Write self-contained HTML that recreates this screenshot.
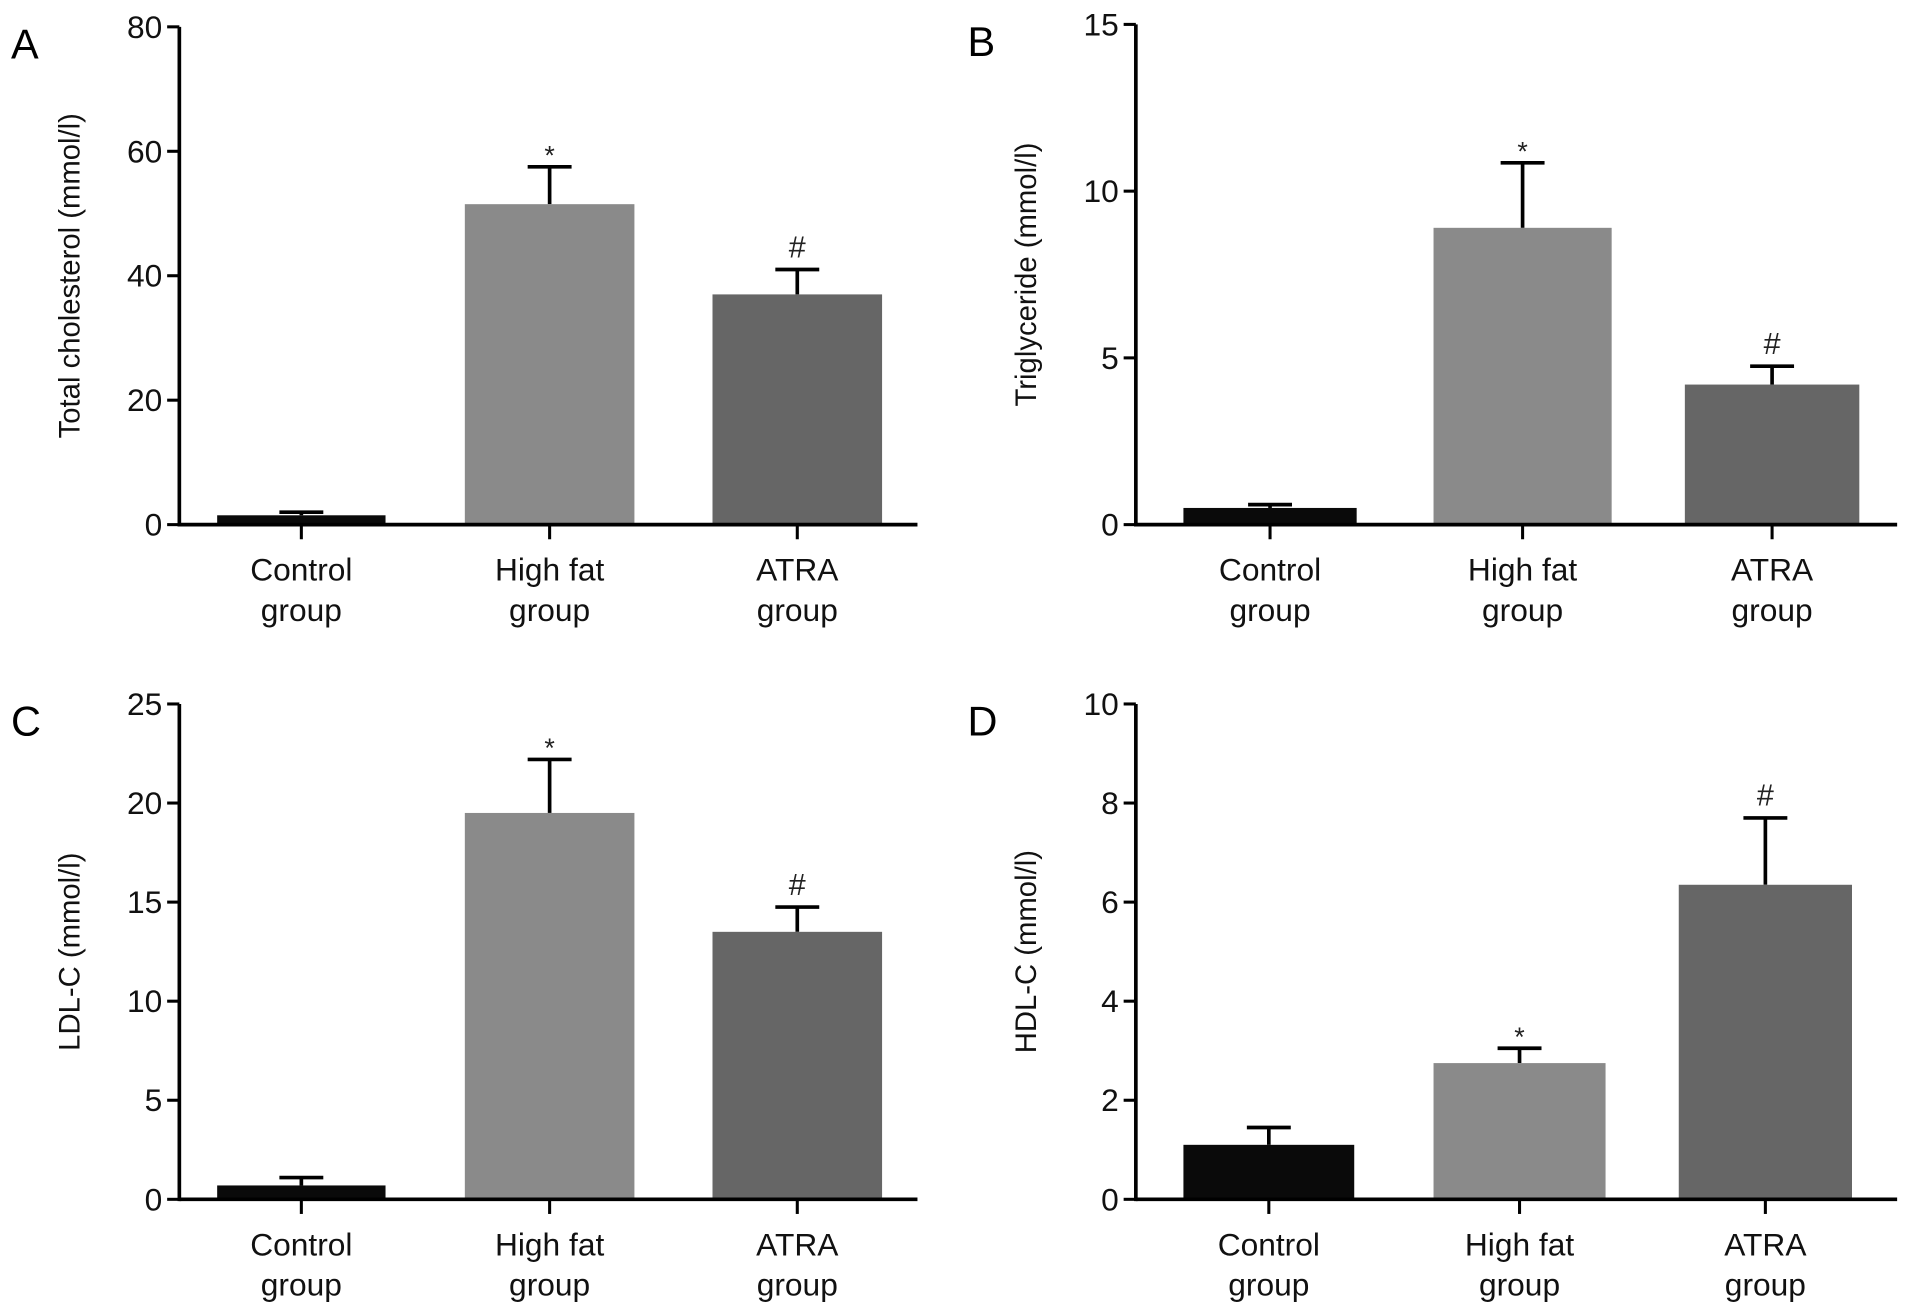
<!DOCTYPE html>
<html><head><meta charset="utf-8"><style>
html,body{margin:0;padding:0;background:#fff;}
svg{display:block;font-family:"Liberation Sans",Arial,sans-serif;}
</style></head><body>
<svg id="fig" width="1913" height="1314" viewBox="0 0 1568 1077" preserveAspectRatio="none" xmlns="http://www.w3.org/2000/svg"></svg>
<script>
const categories = ["Control|group","High fat|group","ATRA|group"];
const colors = ["#0a0a0a","#8a8a8a","#666666"];
const valuesA = [1.5, 51.5, 37];
const errorsA = [2.0, 57.5, 41];
const valuesB = [0.5, 8.9, 4.2];
const errorsB = [0.6, 10.85, 4.75];
const valuesC = [0.7, 19.5, 13.5];
const errorsC = [1.1, 22.2, 14.75];
const valuesD = [1.1, 2.75, 6.35];
const errorsD = [1.45, 3.05, 7.7];
const ticksA = [0,20,40,60,80];
const ticksB = [0,5,10,15];
const ticksC = [0,5,10,15,20,25];
const ticksD = [0,2,4,6,8,10];
const marksA = ["","*","#"];
const marksB = ["","*","#"];
const marksC = ["","*","#"];
const marksD = ["","*","#"];

const svg = document.getElementById('fig');
const NS = "http://www.w3.org/2000/svg";
function el(tag, attrs, parent){
  const e = document.createElementNS(NS, tag);
  for (const k in attrs) e.setAttribute(k, attrs[k]);
  (parent||svg).appendChild(e);
  return e;
}
function panel(cfg){
  const g = el('g', {});
  
  
  const ymax = cfg.ticks[cfg.ticks.length-1];
  const y = v => cfg.y0 - (v/ymax)*(cfg.y0 - cfg.yTop);
  const lt = el('text', {x: cfg.ax - 138, y: cfg.yTop + 26, 'font-size': 34}, g);
  lt.textContent = cfg.letter;
  
  
  cfg.values.forEach((v, i) => {
    const bx = cfg.bars[i][0], bw = cfg.bars[i][1] - cfg.bars[i][0], cx = bx + bw/2;
    const ey = y(cfg.errors[i]);
    const eline = el('line', {x1: cx, x2: cx, y1: y(v), y2: ey, stroke: '#000', 'stroke-width': 3}, g);
    
    
    const cap = el('line', {x1: cx - 18, x2: cx + 18, y1: ey, y2: ey, stroke: '#000', 'stroke-width': 3}, g);
    
    
    const r = el('rect', {x: bx, y: y(v), width: bw, height: cfg.y0 - y(v), fill: colors[i]}, g);
    
    
    if (cfg.marks[i]) {
      const m = el('text', {x: cx, y: ey - (cfg.marks[i] === '*' ? 2 : 10), 'text-anchor': 'middle', 'font-size': cfg.marks[i] === '*' ? 22 : 25, fill: '#222'}, g);
      m.textContent = cfg.marks[i];
      
      
    }
    const xt = el('line', {x1: cx, x2: cx, y1: cfg.y0, y2: cfg.y0 + 12, stroke: '#000', 'stroke-width': 2.5}, g);
    
    
    const parts = categories[i].split('|');
    parts.forEach((p, j) => {
      const t = el('text', {x: cx, y: cfg.y0 + 46 + j*33, 'text-anchor': 'middle', 'font-size': 26, fill: '#111'}, g);
      t.textContent = p;
      
      
    });
  });
  const ya = el('line', {x1: cfg.ax, x2: cfg.ax, y1: cfg.yTop, y2: cfg.y0 + 1.5, stroke: '#000', 'stroke-width': 3}, g);
  
  
  const xa = el('line', {x1: cfg.ax, x2: cfg.xEnd, y1: cfg.y0, y2: cfg.y0, stroke: '#000', 'stroke-width': 3}, g);
  
  
  cfg.ticks.forEach(tv => {
    const ty = y(tv);
    const tk = el('line', {x1: cfg.ax - 10, x2: cfg.ax, y1: ty, y2: ty, stroke: '#000', 'stroke-width': 2.5}, g);
    
    
    const tl = el('text', {x: cfg.ax - 14, y: ty + 9, 'text-anchor': 'end', 'font-size': 26, fill: '#111'}, g);
    tl.textContent = tv;
    
    
  });
  const mid = (cfg.y0 + cfg.yTop)/2;
  const tx = cfg.ax - 82;
  const at = el('text', {x: tx, y: mid, 'text-anchor': 'middle', 'font-size': 24, fill: '#111', transform: 'rotate(-90 ' + tx + ' ' + mid + ')'}, g);
  at.textContent = cfg.title;
  
  
}
const barsL = [[178,316],[381,520],[584,723]];
panel({letter:'A', ax:147, xEnd:752, y0:430, yTop:22, ticks:ticksA, values:valuesA, errors:errorsA, marks:marksA, bars:barsL, title:'Total cholesterol (mmol/l)'});
panel({letter:'B', ax:931, xEnd:1555, y0:430, yTop:20, ticks:ticksB, values:valuesB, errors:errorsB, marks:marksB, bars:[[970,1112],[1175,1321],[1381,1524]], title:'Triglyceride (mmol/l)'});
panel({letter:'C', ax:147, xEnd:752, y0:983, yTop:577, ticks:ticksC, values:valuesC, errors:errorsC, marks:marksC, bars:barsL, title:'LDL-C (mmol/l)'});
panel({letter:'D', ax:931, xEnd:1555, y0:983, yTop:577, ticks:ticksD, values:valuesD, errors:errorsD, marks:marksD, bars:[[970,1110],[1175,1316],[1376,1518]], title:'HDL-C (mmol/l)'});
</script>
</body></html>
